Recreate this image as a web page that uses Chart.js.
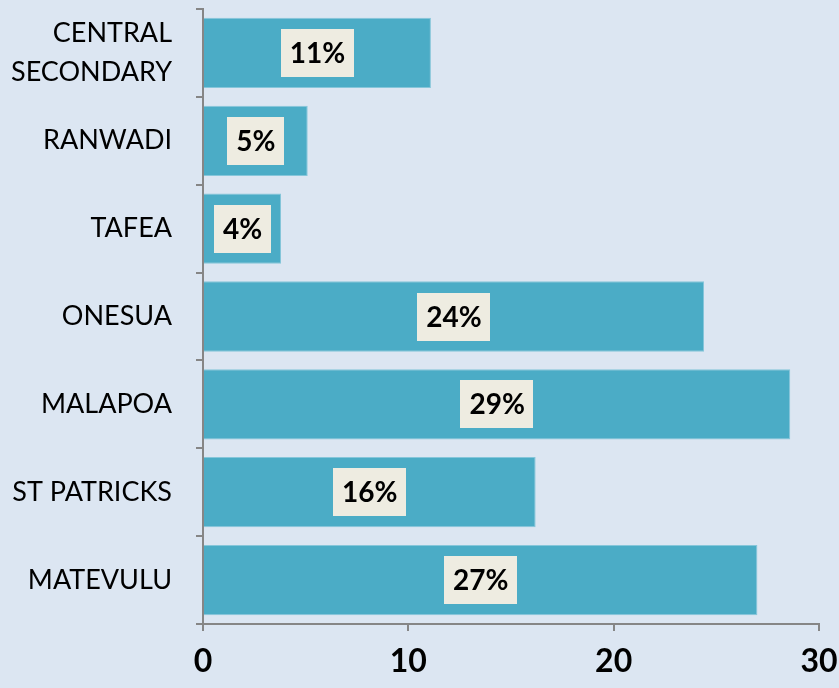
<!DOCTYPE html>
<html>
<head>
<meta charset="utf-8">
<script src="https://cdn.jsdelivr.net/npm/chart.js@4"></script>
<style>
  html, body { margin: 0; padding: 0; background: #dce6f2; }
  #wrap { width: 839px; height: 688px; position: relative; }
</style>
</head>
<body>
<div id="wrap"><canvas id="c" width="839" height="688"></canvas></div>
<script>
const categories = [["CENTRAL", "SECONDARY"], "RANWADI", "TAFEA", "ONESUA", "MALAPOA", "ST PATRICKS", "MATEVULU"];
const values = [11.1, 5.1, 3.8, 24.4, 28.6, 16.2, 27.0];
const xTicks = [0, 10, 20, 30];

const FONT = "Lato, 'Open Sans', sans-serif";

const labelPlugin = {
  id: 'boxLabels',
  afterDatasetsDraw(chart) {
    const ctx = chart.ctx;
    const meta = chart.getDatasetMeta(0);
    ctx.save();
    ctx.font = "bold 28px " + FONT;
    ctx.textAlign = 'center';
    ctx.textBaseline = 'middle';
    meta.data.forEach((bar, i) => {
      const txt = Math.round(values[i]) + '%';
      const cx = (bar.x + bar.base) / 2;
      const cy = bar.y;
      const w = ctx.measureText(txt).width + 18;
      const h = 48;
      ctx.fillStyle = '#eeece1';
      ctx.fillRect(Math.round(cx - w / 2), Math.round(cy - h / 2), Math.round(w), h);
      ctx.fillStyle = '#000000';
      ctx.fillText(txt, cx, cy + 1);
    });
    ctx.restore();
  }
};

const bgPlugin = {
  id: 'bg',
  beforeDraw(chart) {
    const ctx = chart.ctx;
    ctx.save();
    ctx.fillStyle = '#dce6f2';
    ctx.fillRect(0, 0, chart.width, chart.height);
    ctx.restore();
  }
};

new Chart(document.getElementById('c'), {
  type: 'bar',
  data: {
    labels: categories,
    datasets: [{
      data: values,
      backgroundColor: '#4bacc6',
      borderColor: '#86c6da',
      borderWidth: 1,
      barPercentage: 0.8,
      categoryPercentage: 1.0
    }]
  },
  options: {
    indexAxis: 'y',
    responsive: false,
    animation: false,
    devicePixelRatio: 1,
    layout: { padding: { top: 9, right: 20, left: 0, bottom: 0 } },
    plugins: { legend: { display: false }, tooltip: { enabled: false } },
    scales: {
      x: {
        type: 'linear',
        min: 0,
        max: 30,
        afterBuildTicks(axis) { axis.ticks = xTicks.map(v => ({ value: v })); },
        afterFit(axis) { axis.height = 64; axis.paddingLeft = 0; axis.paddingRight = 0; },
        grid: { drawOnChartArea: false, drawTicks: true, tickLength: 7, color: '#868686', lineWidth: 2 },
        border: { display: true, color: '#868686', width: 2 },
        ticks: { color: '#000', font: { family: FONT, size: 32, weight: 'bold' }, padding: 11, maxRotation: 0 }
      },
      y: {
        type: 'category',
        afterFit(axis) { axis.width = 203; axis.paddingTop = 0; axis.paddingBottom = 0; },
        grid: { drawOnChartArea: false, drawTicks: true, tickLength: 7, color: '#868686', lineWidth: 2, offset: true },
        border: { display: true, color: '#868686', width: 2 },
        ticks: { color: '#000', font: { family: FONT, size: 27, lineHeight: 1.42 }, padding: 24 }
      }
    }
  },
  plugins: [bgPlugin, labelPlugin]
});
</script>
</body>
</html>
